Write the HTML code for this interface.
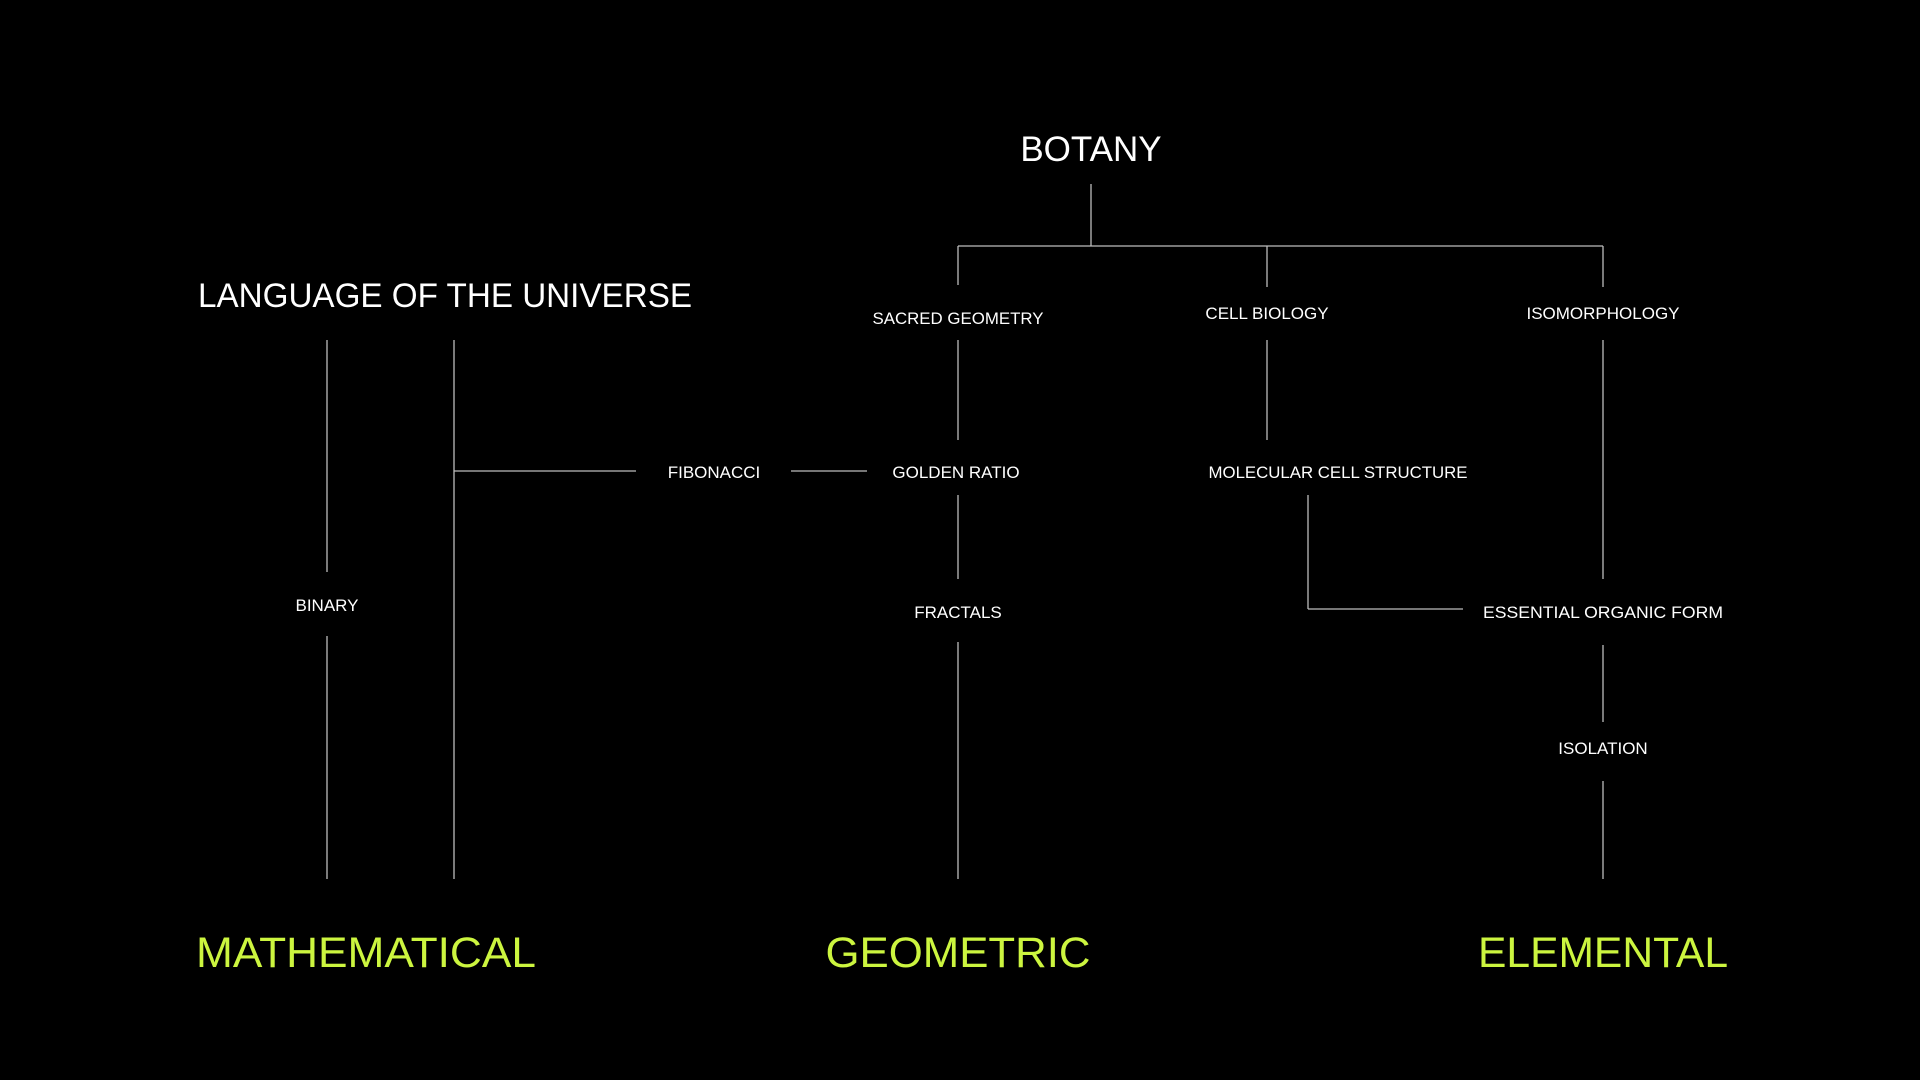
<!DOCTYPE html>
<html><head><meta charset="utf-8"><style>html,body{margin:0;background:#000;width:1920px;height:1080px;overflow:hidden}</style></head>
<body>
<svg width="1920" height="1080" xmlns="http://www.w3.org/2000/svg" style="display:block">
<rect width="1920" height="1080" fill="#000"/>
<g stroke="#bdbdbd" stroke-width="1.3" fill="none">
<line x1="1091" y1="184" x2="1091" y2="246"/>
<line x1="958" y1="246" x2="1603" y2="246"/>
<line x1="958" y1="246" x2="958" y2="285"/>
<line x1="1267" y1="246" x2="1267" y2="287"/>
<line x1="1603" y1="246" x2="1603" y2="287"/>
<line x1="327" y1="340" x2="327" y2="572"/>
<line x1="327" y1="636" x2="327" y2="879"/>
<line x1="454" y1="340" x2="454" y2="879"/>
<line x1="454" y1="471" x2="636" y2="471"/>
<line x1="791" y1="471" x2="867" y2="471"/>
<line x1="958" y1="340" x2="958" y2="440"/>
<line x1="958" y1="495" x2="958" y2="579"/>
<line x1="958" y1="642" x2="958" y2="879"/>
<line x1="1267" y1="340" x2="1267" y2="440"/>
<line x1="1308" y1="495" x2="1308" y2="609"/>
<line x1="1308" y1="609" x2="1463" y2="609"/>
<line x1="1603" y1="340" x2="1603" y2="579"/>
<line x1="1603" y1="645" x2="1603" y2="722"/>
<line x1="1603" y1="781" x2="1603" y2="879"/>
</g>
<g fill="#fff" font-family="Liberation Sans, sans-serif" text-anchor="middle">
<text x="1091" y="161" font-size="35">BOTANY</text>
<text x="445" y="307" font-size="34" textLength="494" lengthAdjust="spacingAndGlyphs">LANGUAGE OF THE UNIVERSE</text>
<g font-size="17">
<text x="958" y="324" textLength="171" lengthAdjust="spacingAndGlyphs">SACRED GEOMETRY</text>
<text x="1267" y="319">CELL BIOLOGY</text>
<text x="1603" y="319">ISOMORPHOLOGY</text>
<text x="714" y="478">FIBONACCI</text>
<text x="956" y="478">GOLDEN RATIO</text>
<text x="1338" y="478" textLength="259" lengthAdjust="spacingAndGlyphs">MOLECULAR CELL STRUCTURE</text>
<text x="327" y="611">BINARY</text>
<text x="958" y="618">FRACTALS</text>
<text x="1603" y="618" textLength="240" lengthAdjust="spacingAndGlyphs">ESSENTIAL ORGANIC FORM</text>
<text x="1603" y="754">ISOLATION</text>
</g>
</g>
<g fill="#ccf53f" font-family="Liberation Sans, sans-serif" font-size="43" text-anchor="middle">
<text x="366" y="967" textLength="340" lengthAdjust="spacingAndGlyphs">MATHEMATICAL</text>
<text x="958" y="967" textLength="265" lengthAdjust="spacingAndGlyphs">GEOMETRIC</text>
<text x="1603" y="967" textLength="250" lengthAdjust="spacingAndGlyphs">ELEMENTAL</text>
</g>
</svg>
</body></html>
